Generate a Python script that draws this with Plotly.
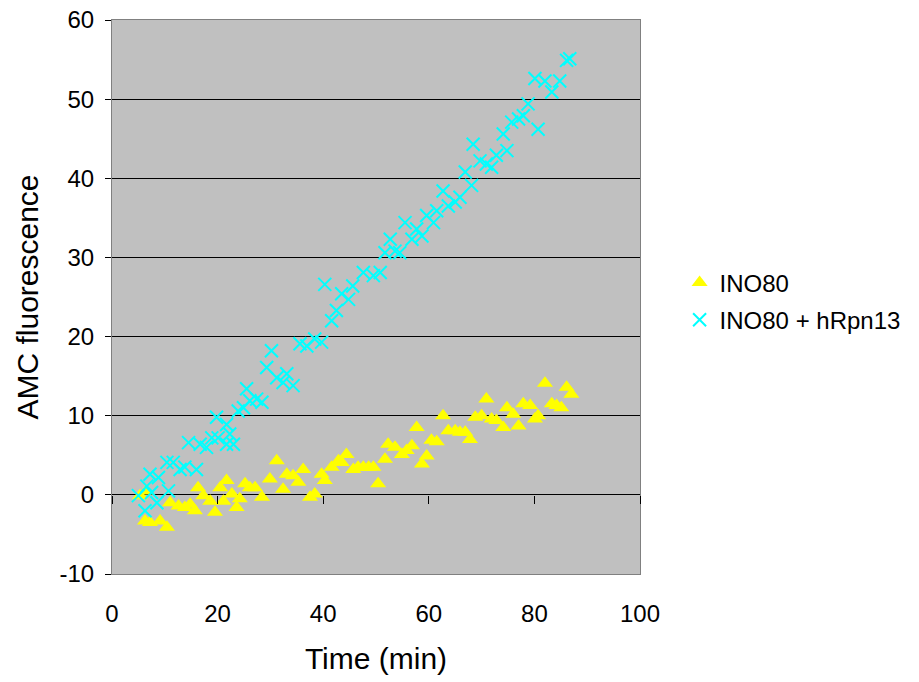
import plotly.graph_objects as go

# INO80 (yellow triangles)
ino80_time = [5.3, 6.5, 6.25, 7.2, 9.1, 10.4, 11.0, 12.6, 13.8, 14.8, 15.7, 16.3, 17.3, 18.6, 19.5,
              20.5, 21.1, 21.7, 22.7, 23.6, 24.2, 25.2, 26.1, 27.1, 28.4, 29.9, 31.2, 32.4, 33.1,
              34.3, 35.3, 36.2, 37.5, 38.4, 39.7, 40.3, 41.6, 42.9, 43.5, 44.4, 45.7, 46.6, 47.6,
              48.6, 49.5, 50.4, 51.7, 52.3, 53.6, 54.9, 55.8, 56.8, 57.7, 58.7, 59.6, 60.5, 61.5,
              62.7, 63.7, 65.0, 65.9, 66.9, 67.8, 68.8, 70.0, 70.9, 71.9, 72.8, 74.1, 74.8, 76.0,
              77.0, 77.9, 79.2, 80.1, 80.7, 82.0, 83.3, 84.2, 85.1, 86.1, 87.0]
ino80_amc = [-0.1, 0.5, -3.3, -3.5, -3.3, -4.1, -1.0, -1.4, -1.6, -1.2, -2.0, 0.9, -0.1, -0.8, -2.2,
             0.9, -0.8, 1.8, 0.1, -1.6, -0.5, 1.4, 0.9, 0.9, -0.3, 2.0, 4.3, 0.7, 2.6,
             2.4, 1.6, 3.2, -0.3, 0.1, 2.6, 1.8, 3.5, 4.3, 4.1, 5.1, 3.2, 3.5, 3.5,
             3.5, 3.5, 1.4, 4.5, 6.4, 6.0, 5.1, 5.6, 6.2, 8.5, 3.9, 4.9, 6.9, 6.7,
             10.0, 8.1, 8.1, 7.9, 7.9, 7.0, 9.8, 10.0, 12.1, 9.6, 9.4, 8.5, 11.0, 10.2,
             8.7, 11.5, 11.3, 9.6, 10.0, 14.1, 11.5, 11.3, 11.0, 13.6, 12.7]

# INO80 + hRpn13 (cyan crosses)
rpn13_time = [5.0, 6.25, 6.6, 7.5, 8.5, 7.2, 8.8, 10.7, 10.4, 11.6, 12.9, 13.8, 16.0, 14.5, 16.7,
              17.9, 18.9, 20.1, 21.7, 23.0, 19.8, 21.7, 22.3, 23.9, 24.9, 25.5, 26.1, 27.4, 28.4,
              29.3, 30.2, 31.2, 33.1, 32.4, 34.3, 35.6, 36.9, 38.4, 39.7, 40.3, 41.6, 42.5, 43.5,
              44.8, 45.6, 47.6, 49.5, 50.8, 51.7, 52.7, 53.6, 54.5, 55.5, 56.8, 57.7, 58.7, 59.6,
              60.9, 61.5, 62.7, 63.7, 65.0, 65.9, 66.9, 68.1, 68.4, 69.7, 70.9, 71.9, 72.8, 74.1,
              74.8, 75.7, 77.0, 77.9, 78.8, 80.7, 80.1, 82.0, 83.3, 84.8, 86.1, 86.7]
rpn13_amc = [-0.1, -2.0, 1.1, 0.3, -1.0, 2.6, 2.2, 0.5, 4.1, 4.1, 3.2, 3.5, 3.2, 6.6, 6.4,
             6.0, 7.2, 7.2, 6.4, 6.4, 9.8, 8.9, 7.7, 10.6, 11.0, 13.4, 11.9, 12.1, 11.7,
             16.1, 18.2, 14.8, 15.3, 14.2, 13.8, 19.1, 18.8, 19.7, 19.3, 26.6, 22.0, 23.3, 25.4,
             24.7, 26.4, 28.1, 27.7, 28.1, 30.6, 32.3, 30.8, 30.6, 34.4, 32.3, 33.6, 32.7, 35.3,
             34.4, 35.9, 38.4, 36.5, 37.0, 37.6, 40.8, 39.1, 44.3, 42.2, 41.8, 41.4, 42.9, 45.6,
             43.5, 47.1, 47.5, 47.9, 49.4, 46.2, 52.6, 52.3, 50.9, 52.3, 54.9, 55.1]

x_ticks = [0, 20, 40, 60, 80, 100]
y_ticks = [-10, 0, 10, 20, 30, 40, 50, 60]
y_tick_labels = ["-10", "0", "10", "20", "30", "40", "50", "60"]

FONT = "Liberation Sans, Arial, sans-serif"

fig = go.Figure()
fig.add_trace(go.Scatter(
    x=ino80_time, y=ino80_amc, mode="markers", name="INO80", legendgroup="a",
    marker=dict(symbol="triangle-up", size=14, color="#FFFF00", line=dict(width=0)),
))
fig.add_trace(go.Scatter(
    x=rpn13_time, y=rpn13_amc, mode="markers", name="INO80 + hRpn13", legendgroup="b",
    marker=dict(symbol="x-thin", size=13, color="#00FFFF", line=dict(width=2, color="#00FFFF")),
))

fig.update_layout(
    width=919, height=682,
    margin=dict(l=112, r=279, t=20, b=108, autoexpand=False),
    paper_bgcolor="white",
    plot_bgcolor="#C0C0C0",
    font=dict(family=FONT, color="black", size=24),
    showlegend=True,
    legend=dict(x=1.075, y=0.566, xanchor="left", yanchor="top",
                font=dict(size=24, family=FONT), bgcolor="rgba(0,0,0,0)",
                traceorder="grouped", tracegroupgap=3),
    xaxis=dict(range=[0, 100], tickvals=x_ticks, ticks="", showgrid=False, zeroline=False,
               showline=True, linecolor="#808080", linewidth=1, mirror=True, automargin=False,
               tickfont=dict(size=24), ticklabelstandoff=18,
               title=dict(text="Time (min)", font=dict(size=30), standoff=22)),
    xaxis2=dict(range=[0, 100], tickvals=x_ticks, overlaying="x", anchor="free",
                position=10 / 70, ticks="outside", ticklen=8, tickcolor="black", tickwidth=1,
                showticklabels=False, showgrid=False, zeroline=False, showline=False,
                automargin=False),
    yaxis=dict(range=[-10, 60], tickvals=y_ticks, ticktext=y_tick_labels, ticks="outside",
               ticklen=6, tickcolor="black", showgrid=True, gridcolor="black", gridwidth=1,
               zeroline=True, zerolinecolor="black", zerolinewidth=1, automargin=False,
               showline=True, linecolor="#808080", linewidth=1, mirror=True,
               tickfont=dict(size=24), ticklabelstandoff=6,
               title=dict(text="AMC fluorescence", font=dict(size=30), standoff=12)),
)
# invisible trace so the zero-line tick axis is drawn
fig.add_trace(go.Scatter(x=[0, 100], y=[None, None], xaxis="x2", showlegend=False,
                         hoverinfo="skip", mode="markers"))

fig.write_html("out.html", config={"displayModeBar": False},
               post_script="document.body.style.margin='0';")
